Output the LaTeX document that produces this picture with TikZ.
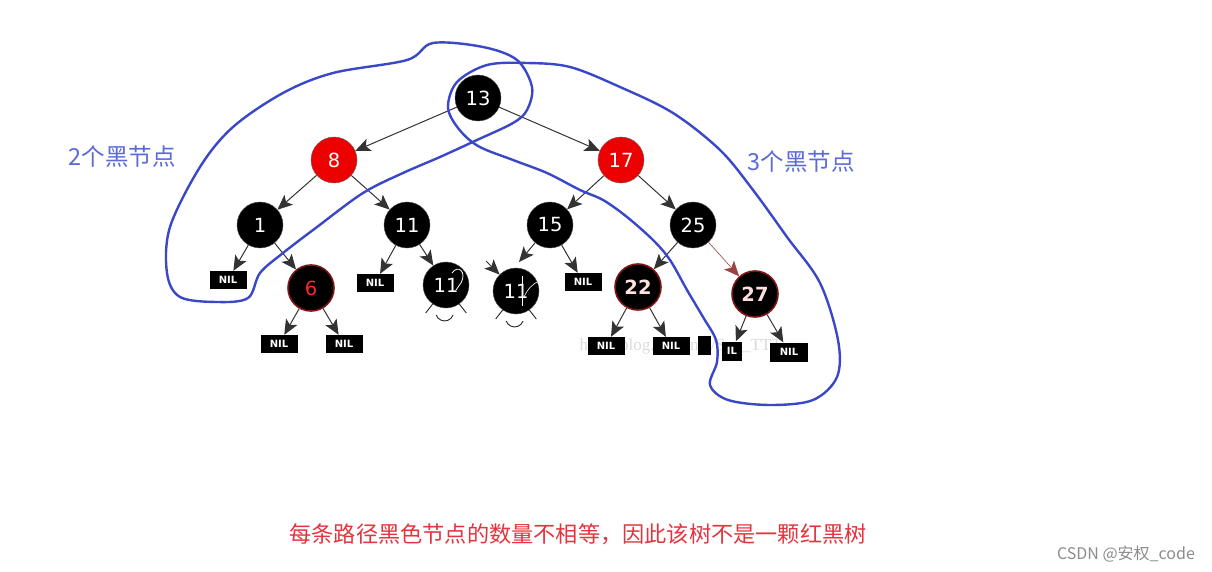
\documentclass[tikz,border=0pt]{standalone}
\usepackage{fontspec}
\setmainfont{DejaVu Sans}
\newfontfamily\cjk{Noto Sans CJK SC}
\newfontfamily\wmfont{Liberation Serif}
\usetikzlibrary{arrows.meta}
\definecolor{loopblue}{RGB}{58,72,200}
\definecolor{lblblue}{RGB}{92,106,216}
\definecolor{msgred}{RGB}{228,52,62}
\definecolor{nodered}{RGB}{236,0,0}
\definecolor{rimred}{RGB}{130,20,20}
\tikzset{
  blk/.style={circle, fill=black, draw=black!70, minimum size=46pt, inner sep=0pt, text=white, font=\fontsize{19.5}{19.5}\selectfont},
  rednd/.style={blk, fill=nodered, draw=black!60},
  rimnd/.style={blk, draw=rimred, line width=1.6pt},
  nilbox/.style={rectangle, fill=black, text=white, minimum width=37pt, minimum height=18pt, inner sep=0pt, font=\bfseries\fontsize{10}{10}\selectfont},
  edge/.style={draw=black!80, line width=1pt, -{Stealth[length=15pt,width=13pt,inset=3.5pt]}},
  loopc/.style={draw=loopblue, line width=2.4pt, line join=round},
  leg/.style={draw=black!85, line width=0.9pt}
}
\begin{document}
\begin{tikzpicture}[x=1pt,y=-1pt]
\useasboundingbox[fill=white] (0,0) rectangle (1212,572);
% faint watermark
\node[text=black!14, font=\wmfont\fontsize{17}{17}\selectfont, anchor=west] (wm) at (576,346) {http://blog.csdn.net/Sun\_TTT};
% nodes
\node[blk] (n13) at (478,98) {13};
\node[rednd] (n8) at (334,160) {8};
\node[rednd] (n17) at (621,160) {17};
\node[blk] (n1) at (260,225) {1};
\node[blk] (n11) at (407,225) {11};
\node[blk] (n15) at (550,225) {15};
\node[blk] (n25) at (693,225) {25};
\node[nilbox] (nilA) at (228,280) {NIL};
\node[rimnd, text=red!85!white] (n6) at (311,288) {6};
\node[nilbox] (nilB) at (375,283) {NIL};
\node[blk] (w1) at (446,285) {11};
\node[blk] (w2) at (516,291) {11};
\node[nilbox] (nilC) at (583,282) {NIL};
\node[rimnd, text=red!12!white, font=\bfseries\fontsize{19.5}{19.5}\selectfont] (n22) at (638,287) {22};
\node[rimnd, text=red!12!white, font=\bfseries\fontsize{19.5}{19.5}\selectfont] (n27) at (755,294) {27};
\node[nilbox] (nilD) at (279,344) {NIL};
\node[nilbox] (nilE) at (344,344) {NIL};
\node[nilbox] (nilF) at (606,346) {NIL};
\node[nilbox] (nilG) at (671,346) {NIL};
\node[nilbox, minimum width=13pt, minimum height=19pt] (nilH) at (704,345) {};
\node[nilbox, minimum width=20pt, minimum height=19pt] (nilI) at (732,351) {IL};
\node[nilbox, minimum width=38pt, minimum height=19pt] (nilJ) at (789,352) {NIL};
% edges
\draw[edge] (n13) -- (n8);
\draw[edge] (n13) -- (n17);
\draw[edge] (n8) -- (n1);
\draw[edge] (n8) -- (n11);
\draw[edge] (n17) -- (n15);
\draw[edge] (n17) -- (n25);
\draw[edge] (n1) -- (nilA);
\draw[edge] (n1) -- (n6);
\draw[edge] (n11) -- (nilB);
\draw[edge] (n11) -- (w1);
\coordinate (t15) at (519,262);
\draw[edge] (n15) -- (t15);
\coordinate (s2) at (486,261);
\draw[edge] (s2) -- (w2);
\draw[edge] (n15) -- (nilC);
\draw[edge] (n25) -- (n22);
\draw[edge, draw=rimred!80, line width=0.6pt] (n25) -- (n27);
\draw[edge] (n6) -- (nilD);
\draw[edge] (n6) -- (nilE);
\draw[edge] (n22) -- (nilF);
\draw[edge] (n22) -- (nilG);
\draw[edge] (n27) -- (nilI);
\draw[edge] (n27) -- (nilJ);
% legs under the odd nodes
\draw[leg] (w1.-125) -- ++(-7,9);
\draw[leg] (w1.-55) -- ++(7,9);
\draw[leg] (w1.-115) ++(0,9) arc[start angle=-160, end angle=-20, radius=9pt];
\draw[leg] (w2.-125) -- ++(-7,9);
\draw[leg] (w2.-55) -- ++(7,9);
\draw[leg] (w2.-115) ++(0,9) arc[start angle=-160, end angle=-20, radius=9pt];
% white scribbles
\draw[white, line width=0.8pt] (452,273) .. controls (458,264) and (467,272) .. (461,283) -- (456,290);
\draw[white, line width=0.8pt] (522,276) -- (522,306);
\draw[white, line width=0.6pt] (524,297) .. controls (528,288) and (533,284) .. (539,281);
% blue loops
\draw[loopc] plot[smooth cycle, tension=0.55] coordinates {
(433,43) (483,47) (517,60) (532,87) (527,110) (513,123) (477,140) (440,157)
(403,173) (363,193) (317,227) (283,253) (260,273) (248,298) (217,302)
(180,297) (167,273) (170,227) (200,167) (233,127) (283,93) (333,73) (407,60)};
\draw[loopc] plot[smooth cycle, tension=0.55] coordinates {
(448,107) (458,128) (478,146) (513,160) (547,173) (580,190) (603,200)
(627,217) (653,240) (670,260) (687,290) (703,317) (716,340) (717,362)
(710,385) (728,400) (770,405) (813,400) (837,377) (838,340) (820,283)
(787,237) (753,190) (720,150) (673,113) (620,87) (570,67) (527,63) (487,65) (457,82)};
% labels
\node[text=lblblue, font=\cjk\fontsize{23.5}{23.5}\selectfont] (lab2) at (122,157) {2个黑节点};
\node[text=lblblue, font=\cjk\fontsize{23.5}{23.5}\selectfont] (lab3) at (801,162) {3个黑节点};
\node[text=msgred, font=\cjk\fontsize{22.2}{22.2}\selectfont] (msg) at (578,534) {每条路径黑色节点的数量不相等，因此该树不是一颗红黑树};
\node[text=black!45, font=\cjk\fontsize{16}{16}\selectfont] (csdn) at (1126,554) {CSDN @安权\_code};
\end{tikzpicture}
\end{document}
